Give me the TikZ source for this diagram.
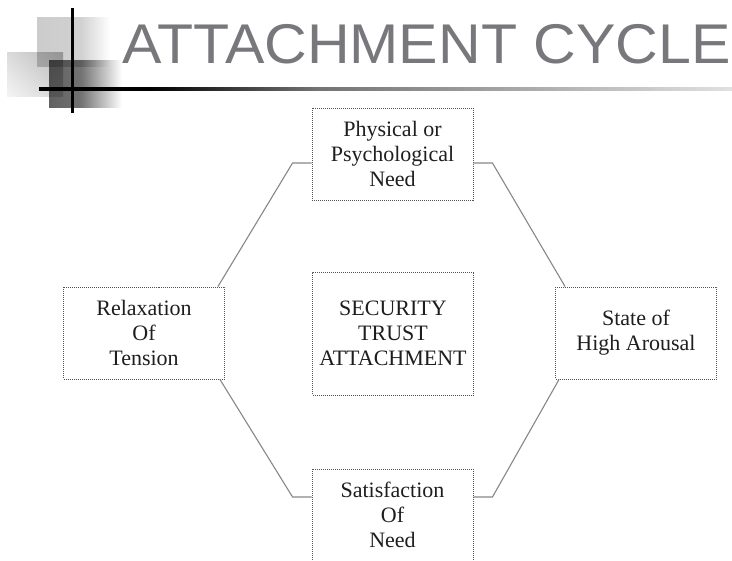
\documentclass[tikz,border=0pt]{standalone}
\usepackage{fontspec}
\setmainfont{Liberation Serif}
\newfontfamily\titlefont{Liberation Sans}
\usetikzlibrary{positioning,shadings}

\definecolor{titlegray}{RGB}{120,120,124}
\definecolor{linkgray}{RGB}{135,135,135}
\definecolor{boxgray}{RGB}{85,85,85}
\definecolor{textdark}{RGB}{30,30,30}

\pgfdeclarehorizontalshading{rulefade}{100bp}{color(0bp)=(black); color(25bp)=(black); color(33bp)=(black); color(45bp)=(black!55); color(75bp)=(black!12); color(100bp)=(black!12)}
\pgfdeclarehorizontalshading{blockfade}{100bp}{color(0bp)=(black!62); color(25bp)=(black!62); color(47bp)=(black!55); color(75bp)=(white); color(100bp)=(white)}
\pgfdeclarehorizontalshading{sheetfade}{100bp}{color(0bp)=(black!20); color(25bp)=(black!20); color(55bp)=(black!18); color(75bp)=(white); color(100bp)=(white)}

\tikzset{
  stage/.style={draw=boxgray, dash pattern=on 1pt off 1pt, line width=0.9pt,
    minimum width=161pt, minimum height=92pt, inner sep=0pt, align=center,
    text=textdark, font=\fontsize{22}{25}\selectfont},
  link/.style={draw=linkgray, line width=1.1pt},
}

\begin{document}
\begin{tikzpicture}[x=1pt, y=-1pt]
  \useasboundingbox (0,0) rectangle (732,561);

  % corner ornament
  \begin{scope}[blend mode=multiply]
    \shade[shading=sheetfade] (37,18) rectangle (110,67);
    \shade[upper left=black!14, upper right=black!28, lower left=black!4, lower right=black!16] (7,53) rectangle (63,97);
    \shade[shading=blockfade] (49,61) rectangle (122,108);
  \end{scope}
  \shade[shading=rulefade] (39,87.5) rectangle (732,90.5);
  \draw[line width=3pt] (72,8) -- (72,113);

  \node[anchor=base west, inner sep=0pt, text=titlegray,
    font=\titlefont\fontsize{56}{56}\selectfont] (title) at (122,63.5)
    {\scalebox{1.055}[1]{ATTACHMENT CYCLE}};

  % cycle
  \node[stage] (need) at (392.5,154) {Physical or\\Psychological\\Need};
  \node[stage] (relax) at (144,333) {Relaxation\\Of\\Tension};
  \node[stage, minimum height=123pt] (core) at (393,333.5) {SECURITY\\TRUST\\ATTACHMENT};
  \node[stage] (arousal) at (636,333) {State of\\High Arousal};
  \node[stage] (satisfy) at (392.5,515) {Satisfaction\\Of\\Need};

  \draw[link] ([yshift=-9pt]need.west) -- ++(-19,0) -- ([xshift=-7pt]relax.north east);
  \draw[link] ([yshift=-9pt]need.east) -- ++(19,0) -- ([xshift=10pt]arousal.north west);
  \draw[link] ([xshift=-5pt]relax.south east) -- ([xshift=-19pt,yshift=18pt]satisfy.west) -- ([yshift=18pt]satisfy.west);
  \draw[link] ([xshift=4pt]arousal.south west) -- ([xshift=19pt,yshift=18pt]satisfy.east) -- ([yshift=18pt]satisfy.east);
\end{tikzpicture}
\end{document}
